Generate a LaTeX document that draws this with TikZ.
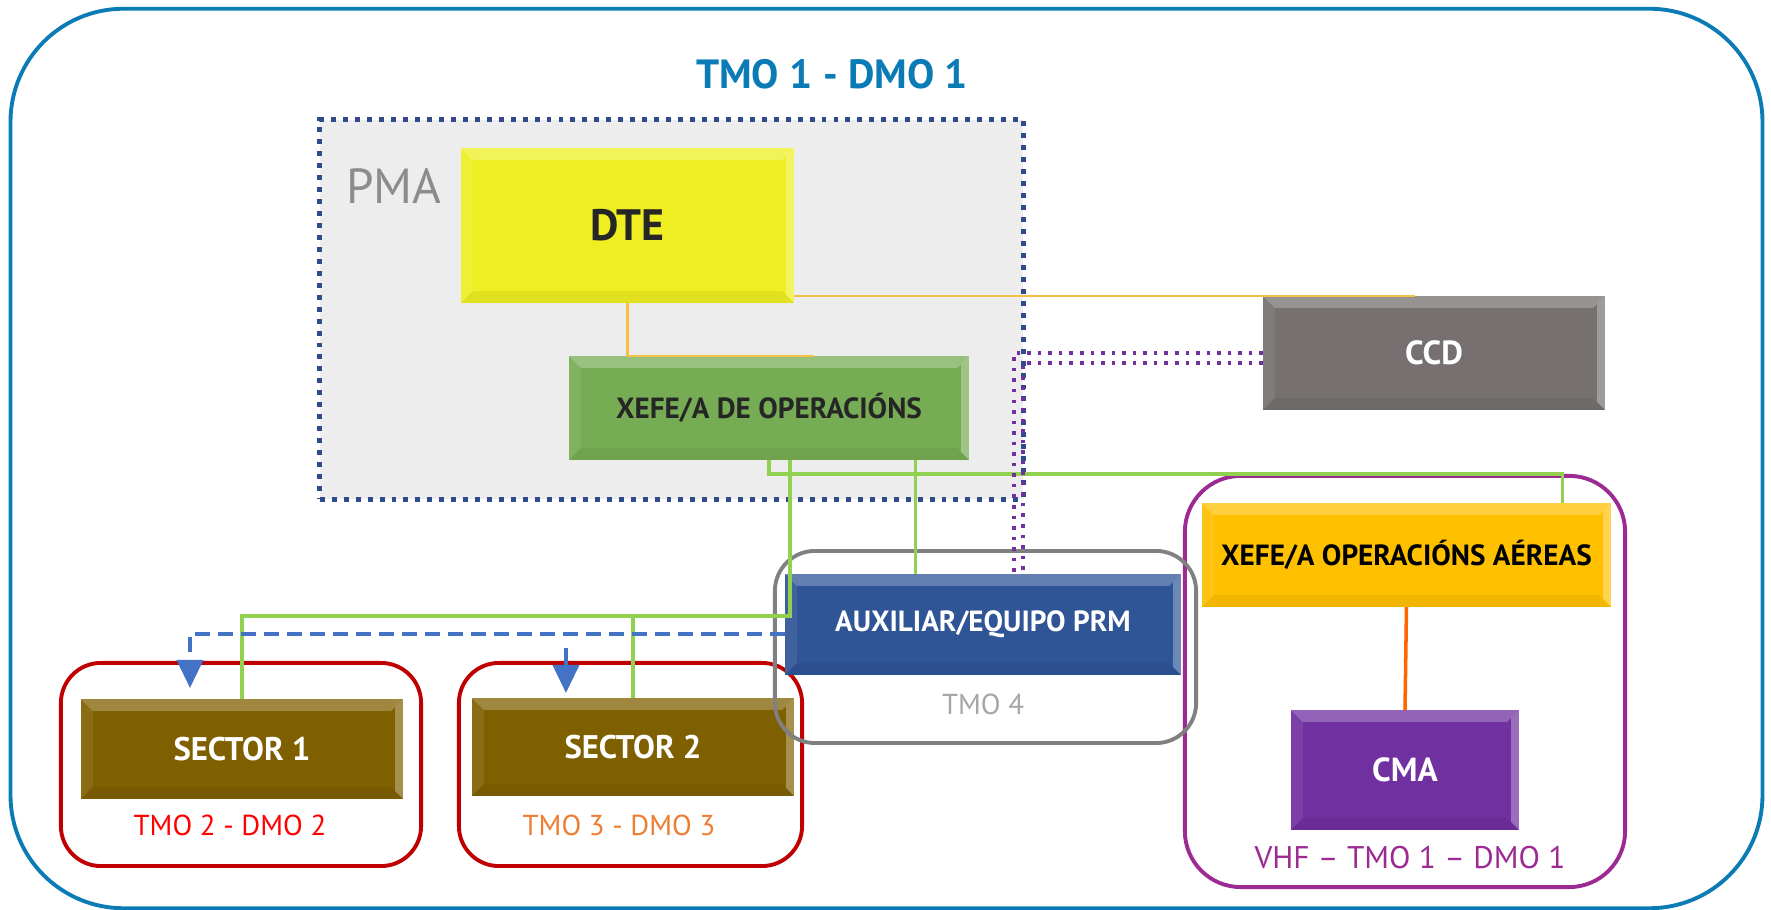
\documentclass[tikz,border=0pt]{standalone}
\usepackage{fontspec}
\setmainfont{PT Sans}
\usetikzlibrary{arrows.meta}
\definecolor{outerblue}{HTML}{0B7BB6}
\definecolor{pmafill}{HTML}{EDEDED}
\definecolor{pmadot}{HTML}{2F4B8C}
\definecolor{dteyel}{HTML}{EEEE22}
\definecolor{opsgreen}{HTML}{76AC53}
\definecolor{ccdgray}{HTML}{767070}
\definecolor{aerorange}{HTML}{FFC000}
\definecolor{cmapurple}{HTML}{7030A0}
\definecolor{auxblue}{HTML}{2F5597}
\definecolor{secolive}{HTML}{7F6000}
\definecolor{framepurple}{HTML}{9C2A92}
\definecolor{framered}{HTML}{C00000}
\definecolor{framegray}{HTML}{808080}
\definecolor{lnyellow}{HTML}{F4C146}
\definecolor{lngreen}{HTML}{92D050}
\definecolor{lnblue}{HTML}{4472C4}
\definecolor{lnorange}{HTML}{ED7D31}
\definecolor{lnpurple}{HTML}{7030A0}
\definecolor{txtgray}{HTML}{A6A6A6}
\definecolor{pmagray}{HTML}{8C8C8C}
\newcommand\bevelfx{%
  \fill[white,opacity=.25] (path picture bounding box.north west) -- (path picture bounding box.north east)
    -- ([xshift=-1.2mm,yshift=-1.2mm]path picture bounding box.north east)
    -- ([xshift=1.2mm,yshift=-1.2mm]path picture bounding box.north west) -- cycle;
  \fill[white,opacity=.08] (path picture bounding box.north west) -- (path picture bounding box.south west)
    -- ([xshift=1.2mm,yshift=1.2mm]path picture bounding box.south west)
    -- ([xshift=1.2mm,yshift=-1.2mm]path picture bounding box.north west) -- cycle;
  \fill[white,opacity=.30] (path picture bounding box.north east) -- (path picture bounding box.south east)
    -- ([xshift=-0.8mm,yshift=0.8mm]path picture bounding box.south east)
    -- ([xshift=-0.8mm,yshift=-0.8mm]path picture bounding box.north east) -- cycle;
  \fill[black,opacity=.05] (path picture bounding box.south west) -- (path picture bounding box.south east)
    -- ([xshift=-1.2mm,yshift=1.2mm]path picture bounding box.south east)
    -- ([xshift=1.2mm,yshift=1.2mm]path picture bounding box.south west) -- cycle;
}
\tikzset{
  x=0.01cm, y=-0.01cm,
  boxnode/.style={fill=#1, draw=none, inner sep=0pt, outer sep=0pt, font=\bfseries, align=center, path picture={\bevelfx}},
  frame/.style={draw=#1, line width=1.1pt, rounded corners=0.4cm, inner sep=0pt, outer sep=0pt, fill=none},
  yelline/.style={draw=lnyellow, line width=0.8pt},
  grnline/.style={draw=lngreen, line width=0.9pt},
  blueline/.style={draw=lnblue, line width=1.1pt, -{Triangle[width=0.26cm,length=0.28cm]}},
  purdot/.style={draw=lnpurple, line width=1pt, dotted},
  lbl/.style={inner sep=0pt, font=\fontsize{8.2}{10}\selectfont}
}
\begin{document}
\begin{tikzpicture}
\useasboundingbox (0,0) rectangle (1771,910);
% outer frame
\node[draw=outerblue, line width=1.1pt, rounded corners=1.13cm, minimum width=17.51cm, minimum height=8.99cm, inner sep=0pt] (outer) at (886.5,458.5) {};
\node[text=outerblue, font=\bfseries\fontsize{11.6}{14}\selectfont] (title) at (832,74) {TMO 1 - DMO 1};
% PMA area
\node[fill=pmafill, draw=pmadot, dotted, line width=1.4pt, minimum width=7.03cm, minimum height=3.79cm, inner sep=0pt] (pma) at (671.5,309.5) {};
\node[text=pmagray, font=\fontsize{14}{16}\selectfont] (pmalbl) at (394,186) {PMA};
% frames
\node[frame=framered, minimum width=3.60cm, minimum height=2.03cm] (red1) at (241,764.5) {};
\node[frame=framered, minimum width=3.43cm, minimum height=2.03cm] (red2) at (630.5,764.5) {};
\node[frame=framepurple, rounded corners=0.56cm, minimum width=4.40cm, minimum height=4.11cm] (purp) at (1405,681.5) {};
% boxes
\node[boxnode=dteyel, text=black!85, minimum width=3.33cm, minimum height=1.55cm, font=\bfseries\fontsize{12.5}{14}\selectfont] (dte) at (627.5,225.5) {DTE};
\node[boxnode=opsgreen, text=black!85, minimum width=4.00cm, minimum height=1.04cm, font=\bfseries\fontsize{8.3}{10}\selectfont] (xo) at (769,408) {XEFE/A DE OPERACIÓNS};
\node[boxnode=ccdgray, text=white, minimum width=3.42cm, minimum height=1.14cm, font=\bfseries\fontsize{9.5}{11}\selectfont] (ccd) at (1434,353) {CCD};
\node[boxnode=aerorange, text=black, minimum width=4.09cm, minimum height=1.04cm, font=\bfseries\fontsize{8.3}{10}\selectfont] (aer) at (1406.5,555) {XEFE/A OPERACIÓNS AÉREAS};
\node[boxnode=cmapurple, text=white, minimum width=2.28cm, minimum height=1.20cm, font=\bfseries\fontsize{9.5}{11}\selectfont] (cma) at (1405,770) {CMA};
\node[boxnode=secolive, text=white, minimum width=3.22cm, minimum height=1.00cm, font=\bfseries\fontsize{9.3}{11}\selectfont] (s1) at (242,749) {SECTOR 1};
\node[boxnode=secolive, text=white, minimum width=3.22cm, minimum height=0.98cm, font=\bfseries\fontsize{9.3}{11}\selectfont] (s2) at (633,747) {SECTOR 2};
\node[frame=framegray, minimum width=4.21cm, minimum height=1.92cm] (grayf) at (985.5,647) {};
\node[boxnode=auxblue, text=white, minimum width=3.96cm, minimum height=1.01cm, font=\bfseries\fontsize{8.3}{10}\selectfont] (aux) at (983,624.5) {AUXILIAR/EQUIPO PRM};
% labels
\node[lbl, text=txtgray] (tmo4) at (983,704) {TMO 4};
\node[lbl, text=red] (tmo2) at (230,825) {TMO 2 - DMO 2};
\node[lbl, text=lnorange] (tmo3) at (619,825) {TMO 3 - DMO 3};
\node[lbl, text=framepurple, font=\fontsize{8.9}{11}\selectfont] (vhf) at (1410,858) {VHF – TMO 1 – DMO 1};
% connectors
\draw[yelline] (dte.east |- ccd.north) -- ([xshift=-0.19cm]ccd.north);
\draw[yelline] (dte.south) |- ([xshift=0.45cm]xo.north);
\draw[grnline] (xo.south) -- ++(0,14) -| ([xshift=1.555cm]aer.north);
\draw[grnline] ([xshift=0.21cm]xo.south) |- (s1.north |- 0,616) -- (s1.north);
\draw[grnline] (s2.north |- 0,616) -- (s2.north);
\draw[grnline] ([xshift=1.46cm]xo.south) -- ([xshift=1.46cm]xo.south |- aux.north);
\draw[orange!80!red, line width=1pt] (aer.south) -- (cma.north);
\draw[blueline, dash pattern=on 0.15cm off 0.08cm] ([yshift=-0.095cm]aux.west) -| ([xshift=-0.52cm,yshift=0.11cm]s1.north);
\draw[blueline] ([xshift=-0.67cm,yshift=0.5cm]s2.north) -- ([xshift=-0.67cm,yshift=0.05cm]s2.north);
\draw[purdot] (ccd.west) -| ([xshift=0.31cm]aux.north);
\draw[purdot] ([yshift=-0.1cm]ccd.west) -| ([xshift=0.40cm]aux.north);
\end{tikzpicture}
\end{document}
